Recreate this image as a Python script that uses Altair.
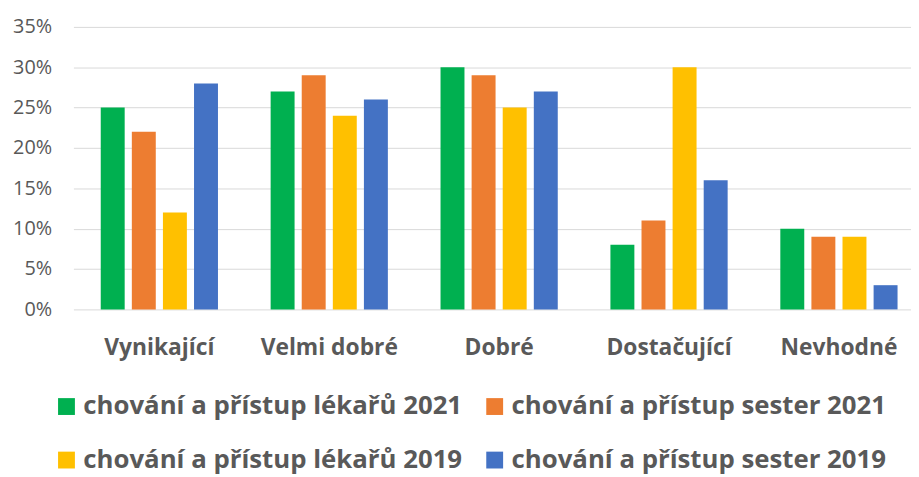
import altair as alt
import pandas as pd

categories = ["Vynikající", "Velmi dobré", "Dobré", "Dostačující", "Nevhodné"]
series = [
    "chování a přístup lékařů 2021",
    "chování a přístup sester 2021",
    "chování a přístup lékařů 2019",
    "chování a přístup sester 2019",
]
colors = ["#00B050", "#ED7D31", "#FFC000", "#4472C4"]
lekari_2021 = [25, 27, 30, 8, 10]
sestry_2021 = [22, 29, 29, 11, 9]
lekari_2019 = [12, 24, 25, 30, 9]
sestry_2019 = [28, 26, 27, 16, 3]
y_ticks = [0, 0.05, 0.10, 0.15, 0.20, 0.25, 0.30, 0.35]

rows = []
for s, vals in zip(series, [lekari_2021, sestry_2021, lekari_2019, sestry_2019]):
    for c, v in zip(categories, vals):
        rows.append({"kategorie": c, "serie": s, "hodnota": v / 100})
df = pd.DataFrame(rows)

# legend is filled column by column, so order the colour domain accordingly
legend_order = [0, 2, 1, 3]
color_domain = [series[i] for i in legend_order]
color_range = [colors[i] for i in legend_order]

FONT = "Open Sans"

chart = alt.Chart(df).mark_bar().encode(
    x=alt.X(
        "kategorie:N",
        sort=categories,
        title=None,
        scale=alt.Scale(paddingInner=0.31, paddingOuter=0.12, align=0.67),
        axis=alt.Axis(
            labelAngle=0, labelFont=FONT, labelFontSize=23, labelFontWeight="bold",
            labelColor="#595959", labelPadding=28, ticks=False, domain=False, grid=False,
        ),
    ),
    xOffset=alt.XOffset("serie:N", sort=series,
                        scale=alt.Scale(paddingInner=0.23, paddingOuter=0)),
    y=alt.Y(
        "hodnota:Q",
        title=None,
        scale=alt.Scale(domain=[0, 0.35], nice=False),
        axis=alt.Axis(
            values=y_ticks, format=".0%", labelFont=FONT, labelFontSize=20,
            labelColor="#595959", labelPadding=22, ticks=False, domain=False,
            gridColor="#D9D9D9", gridWidth=1,
        ),
    ),
    color=alt.Color(
        "serie:N",
        scale=alt.Scale(domain=color_domain, range=color_range),
        legend=alt.Legend(
            title=None, orient="none", legendX=-20, legendY=370, columns=2,
            symbolType="square", symbolSize=289, symbolStrokeWidth=0,
            labelFont=FONT, labelFontSize=26, labelFontWeight="bold",
            labelColor="#595959", labelOffset=4, columnPadding=19, rowPadding=28,
            labelLimit=500, padding=0,
        ),
    ),
).properties(
    width=845,
    height=285,
    autosize=alt.AutoSizeParams(type="none"),
    padding={"left": 66, "top": 17, "right": 0, "bottom": 166},
).configure_view(stroke=None)

chart.save("out.html", embed_options={"renderer": "svg", "actions": False})
